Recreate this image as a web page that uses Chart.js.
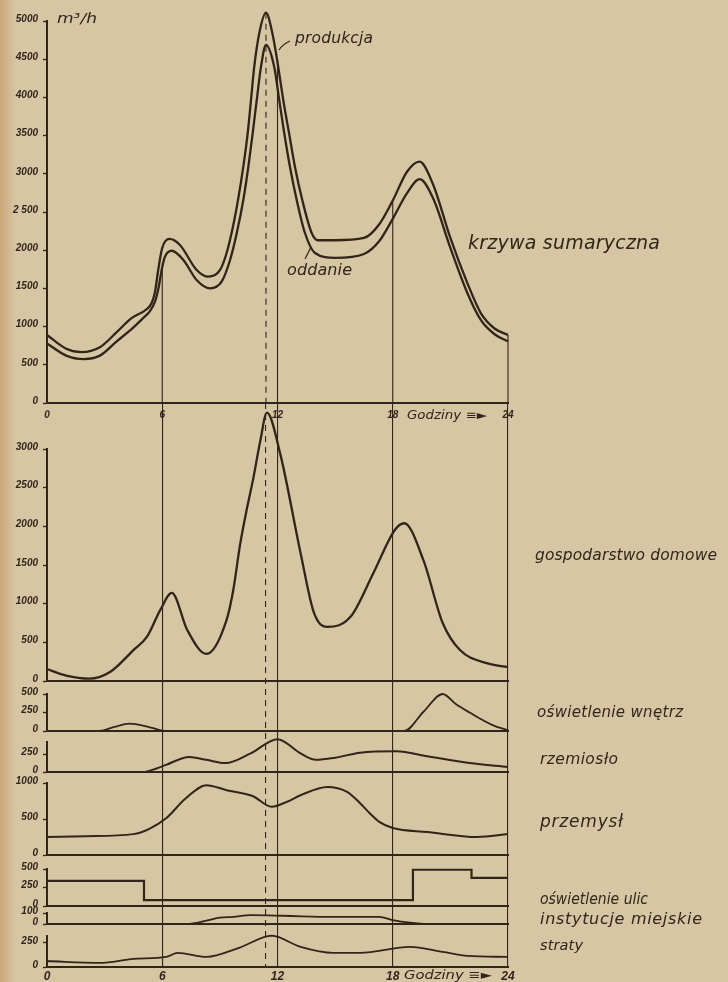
<!DOCTYPE html>
<html><head><meta charset="utf-8">
<script src="https://cdn.jsdelivr.net/npm/chart.js@4/dist/chart.umd.min.js"></script>
<style>
html,body{margin:0;padding:0;}
body{width:728px;height:982px;background:#d7c6a4;position:relative;overflow:hidden;}
#edge{position:absolute;left:0;top:0;width:16px;height:982px;background:linear-gradient(to right,#c8a679,rgba(215,198,164,0));}
canvas{position:absolute;left:0;}
svg{position:absolute;left:0;top:0;}
svg text{font-family:"DejaVu Sans",sans-serif;font-style:italic;fill:#33241a;}
</style></head>
<body>
<div id="edge"></div>
<canvas id="cOverlay" width="728" height="982" style="top:0px"></canvas>
<canvas id="cTop" width="728" height="432" style="top:0px"></canvas>
<canvas id="cGosp" width="728" height="290" style="top:400px"></canvas>
<canvas id="cWnetrz" width="728" height="56" style="top:684px"></canvas>
<canvas id="cRzem" width="728" height="50" style="top:730px"></canvas>
<canvas id="cPrzem" width="728" height="92" style="top:772px"></canvas>
<canvas id="cUlice" width="728" height="56" style="top:858px"></canvas>
<canvas id="cInst" width="728" height="29" style="top:903px"></canvas>
<canvas id="cStraty" width="728" height="49" style="top:926px"></canvas>
<svg width="728" height="982" viewBox="0 0 728 982">
  <text x="57" y="23" font-size="14" textLength="40" lengthAdjust="spacingAndGlyphs">m³/h</text>
  <text x="295" y="43" font-size="15.5" textLength="78" lengthAdjust="spacing">produkcja</text>
  <path d="M279,50 Q283,44 290,41" stroke="#33241a" stroke-width="1.2" fill="none"/>
  <text x="287" y="275" font-size="16" textLength="65" lengthAdjust="spacing">oddanie</text>
  <path d="M311,247 L305,259" stroke="#33241a" stroke-width="1.2" fill="none"/>
  <text x="468" y="249" font-size="19" textLength="192" lengthAdjust="spacing">krzywa sumaryczna</text>
  <text x="535" y="560" font-size="15.5" textLength="182" lengthAdjust="spacing">gospodarstwo domowe</text>
  <text x="537" y="717" font-size="15" textLength="146" lengthAdjust="spacing">oświetlenie wnętrz</text>
  <text x="540" y="764" font-size="15.5" textLength="78" lengthAdjust="spacing">rzemiosło</text>
  <text x="540" y="827" font-size="17" textLength="83" lengthAdjust="spacing">przemysł</text>
  <text x="540" y="904" font-size="15.5" textLength="108" lengthAdjust="spacingAndGlyphs">oświetlenie ulic</text>
  <text x="540" y="924" font-size="16" textLength="162" lengthAdjust="spacing">instytucje miejskie</text>
  <text x="540" y="950" font-size="14.5" textLength="43" lengthAdjust="spacing">straty</text>
  <text x="407" y="419" font-size="12" textLength="80" lengthAdjust="spacingAndGlyphs">Godziny ≡►</text>
  <text x="404" y="979" font-size="12.5" textLength="88" lengthAdjust="spacingAndGlyphs">Godziny ≡►</text>
</svg>
<script>
const INK = '#33241a';

// ---- x axis (hours) ----
const hourTicks = [0, 6, 12, 18, 24];
const hourTickLabels = ['0', '6', '12', '18', '24'];
const peakHour = 11.4;
const markerHours = [6, 12, 18, 24];
const markerFrom = ['oddanie', 'produkcja', 'produkcja', 'produkcja'];

// ---- krzywa sumaryczna (m3/h) ----
const prodHours  = [0, 1, 1.8, 2.75, 3.6, 4.4, 5.2, 5.45, 5.62, 5.79, 6, 6.37, 6.92, 7.79, 8.4, 9.01, 9.35, 9.7, 9.96, 10.22, 10.45, 10.62, 10.79, 11.05, 11.4, 11.73, 12, 12.3, 12.6, 12.91, 13.29, 13.78, 14.1, 15, 16.5, 17.3, 18, 18.75, 19.4, 20.1, 21, 21.9, 22.6, 23.3, 24];
const prodValues = [890, 710, 665, 730, 920, 1110, 1230, 1310, 1450, 1741, 2030, 2147, 2068, 1741, 1653, 1741, 1963, 2330, 2680, 3093, 3534, 3966, 4402, 4839, 5109, 4843, 4460, 3966, 3534, 3089, 2657, 2225, 2130, 2130, 2160, 2340, 2650, 3030, 3160, 2860, 2160, 1560, 1170, 975, 890];
const oddHours  = [0, 1, 1.9, 2.75, 3.6, 4.5, 5.01, 5.35, 5.62, 5.8, 6, 6.14, 6.49, 7.1, 7.79, 8.49, 9.09, 9.53, 9.88, 10.22, 10.48, 10.71, 10.92, 11.14, 11.4, 11.83, 12.09, 12.35, 12.65, 13, 13.43, 13.95, 15, 16.5, 17.3, 18, 18.75, 19.4, 20.1, 21, 21.9, 22.6, 23.3, 24];
const oddValues = [780, 620, 575, 620, 800, 990, 1113, 1200, 1326, 1500, 1780, 1915, 1993, 1872, 1610, 1501, 1588, 1872, 2225, 2657, 3089, 3534, 3966, 4402, 4686, 4398, 3966, 3534, 3089, 2657, 2225, 1963, 1900, 1950, 2120, 2410, 2750, 2930, 2680, 2030, 1430, 1080, 900, 807];
const sumTicks = [0, 500, 1000, 1500, 2000, 2500, 3000, 3500, 4000, 4500, 5000];
const sumTickLabels = ['0', '500', '1000', '1500', '2000', '2 500', '3000', '3500', '4000', '4500', '5000'];

// ---- gospodarstwo domowe ----
const gospHours  = [0, 1, 2.2, 3.3, 4.5, 5.2, 5.9, 6.5, 7.3, 8.3, 9.35, 9.7, 10.05, 10.4, 10.74, 11.1, 11.45, 12.13, 13.2, 13.9, 14.6, 15.8, 17, 18.1, 18.6, 19.6, 20.6, 21.5, 22.9, 24];
const gospValues = [155, 70, 30, 120, 400, 570, 920, 1140, 660, 350, 790, 1180, 1760, 2220, 2620, 3100, 3470, 2950, 1656, 880, 700, 830, 1400, 1950, 2040, 1560, 750, 400, 230, 180];
const gospTicks = [0, 500, 1000, 1500, 2000, 2500, 3000];
const gospTickLabels = ['0', '500', '1000', '1500', '2000', '2500', '3000'];

// ---- oświetlenie wnętrz ----
const wnetrzHours  = [0, 2.75, 3.5, 4.3, 5.35, 6.2, 18.6, 19.6, 20.6, 21.3, 22, 23.2, 24];
const wnetrzValues = [0, 0, 55, 100, 50, 0, 0, 260, 500, 360, 250, 80, 10];
const wnetrzTicks = [0, 250, 500];
const wnetrzTickLabels = ['0', '250', '500'];

// ---- rzemiosło ----
const rzemHours  = [0, 5, 5.7, 6.2, 7.4, 8.3, 9.3, 10.6, 12, 13.2, 14, 15, 16.3, 18.2, 19.8, 22, 24];
const rzemValues = [0, 0, 50, 100, 210, 170, 125, 260, 460, 260, 170, 200, 270, 290, 220, 125, 70];
const rzemTicks = [0, 250];
const rzemTickLabels = ['0', '250'];

// ---- przemysł ----
const przemHours  = [0, 2, 4.5, 5.3, 6.2, 7.2, 8.3, 9.35, 10.7, 11.7, 12.5, 13.2, 14.6, 15.6, 16.3, 16.8, 17.3, 18, 19.8, 22.4, 24];
const przemValues = [250, 260, 290, 360, 510, 780, 970, 900, 820, 670, 740, 830, 945, 880, 720, 580, 460, 375, 320, 250, 290];
const przemTicks = [0, 500, 1000];
const przemTickLabels = ['0', '500', '1000'];

// ---- oświetlenie ulic ----
const uliceHours  = [0, 5.05, 19.05, 22.1, 24];
const uliceValues = [340, 80, 490, 380, 380];
const uliceTicks = [0, 250, 500];
const uliceTickLabels = ['0', '250', '500'];

// ---- instytucje miejskie ----
const instHours  = [0, 7.3, 8.3, 9, 9.7, 10.6, 12.3, 14.9, 16.3, 17.3, 18, 18.9, 19.8, 24];
const instValues = [0, 0, 30, 57, 65, 80, 75, 64, 65, 65, 36, 12, 0, 0];
const instTicks = [0, 100];
const instTickLabels = ['0', '100'];

// ---- straty ----
const stratyHours  = [0, 2.75, 4.5, 6.2, 6.8, 8.3, 10, 11.7, 13.2, 14.9, 16.3, 18.9, 20.6, 21.9, 24];
const stratyValues = [62, 42, 83, 104, 146, 104, 198, 323, 208, 146, 146, 208, 156, 115, 104];
const stratyTicks = [0, 250];
const stratyTickLabels = ['0', '250'];

// ------------------------------------------------------------
const pts = (hs, vs) => hs.map((h, i) => ({x: h, y: vs[i]}));
const valueAt = (hs, vs, h) => vs[hs.indexOf(h)];
const curve = (hs, vs, extra) => Object.assign({
  data: pts(hs, vs), borderColor: INK, borderWidth: 2.3, pointRadius: 0,
  cubicInterpolationMode: 'monotone', fill: false, clip: false
}, extra || {});
const tickFont = {family: 'Liberation Sans', size: 10, style: 'italic', weight: 'bold'};
const baseOpts = {
  responsive: false, animation: false, events: [],
  plugins: {legend: {display: false}, tooltip: {enabled: false}}
};

function panel(id, cfg) {
  return new Chart(document.getElementById(id), {
    type: 'line',
    data: {datasets: cfg.datasets},
    options: Object.assign({}, baseOpts, {
      layout: {padding: {top: cfg.padTop, bottom: cfg.padBottom, left: 0, right: 220}},
      scales: {
        x: {
          type: 'linear', min: 0, max: 24,
          afterBuildTicks: s => { s.ticks = hourTicks.map(v => ({value: v})); },
          afterFit: s => { s.height = cfg.xHeight || 0; s.paddingLeft = 0; s.paddingRight = 0; },
          grid: {display: false, drawTicks: false},
          border: {display: true, color: INK, width: 2},
          ticks: {
            display: !!cfg.xLabels, color: INK, font: tickFont, padding: cfg.xPad || 4,
            autoSkip: false, maxRotation: 0,
            callback: v => hourTickLabels[hourTicks.indexOf(v)]
          }
        },
        y: {
          type: 'linear', min: 0, max: cfg.max,
          afterBuildTicks: s => { s.ticks = cfg.ticks.map(v => ({value: v})); },
          afterFit: s => { s.width = 47; s.paddingTop = 0; s.paddingBottom = 0; },
          grid: {display: true, drawOnChartArea: false, drawTicks: true, tickLength: 4, tickColor: INK, tickWidth: 1.4},
          border: {display: true, color: INK, width: 2},
          ticks: {
            color: INK, font: tickFont, padding: 5, labelOffset: -2, autoSkip: false,
            callback: v => cfg.labels[cfg.ticks.indexOf(v)]
          }
        }
      }
    })
  });
}

// overlay: vertical hour lines through all lower panels + bottom hour labels
const gridHours = [0, 6, peakHour, 12, 18, 24];
new Chart(document.getElementById('cOverlay'), {
  type: 'line',
  data: {datasets: []},
  options: Object.assign({}, baseOpts, {
    layout: {padding: {top: 403, bottom: 0, left: 47, right: 220}},
    scales: {
      x: {
        type: 'linear', min: 0, max: 24,
        afterBuildTicks: s => { s.ticks = gridHours.map(v => ({value: v})); },
        afterFit: s => { s.height = 15; s.paddingLeft = 0; s.paddingRight = 0; },
        grid: {display: true, drawOnChartArea: true, drawTicks: false, lineWidth: 1.1,
               color: c => (c.tick && c.tick.value === 0) ? 'rgba(0,0,0,0)' : INK},
        border: {display: false, dash: c => (c.tick && c.tick.value === peakHour) ? [6, 5] : []},
        ticks: {
          color: INK, font: {family: 'Liberation Sans', size: 12, style: 'italic', weight: 'bold'},
          padding: 2, autoSkip: false, maxRotation: 0,
          callback: v => { const i = hourTicks.indexOf(v); return i < 0 ? '' : hourTickLabels[i]; }
        }
      },
      y: {display: false, min: 0, max: 1}
    }
  })
});

// top panel: krzywa sumaryczna
const series = {produkcja: [prodHours, prodValues], oddanie: [oddHours, oddValues]};
const markerSets = markerHours.map((h, i) => {
  const s = series[markerFrom[i]];
  return {data: [{x: h, y: valueAt(s[0], s[1], h)}, {x: h, y: 0}], borderColor: INK, borderWidth: 1.1, pointRadius: 0, clip: false};
});
const peakSet = {data: [{x: peakHour, y: valueAt(prodHours, prodValues, peakHour)}, {x: peakHour, y: 0}],
  borderColor: INK, borderWidth: 1.1, borderDash: [6, 5], pointRadius: 0, clip: false};

panel('cTop', {
  padTop: 21, padBottom: 13, xHeight: 16, xLabels: true, xPad: 6,
  max: 5000, ticks: sumTicks, labels: sumTickLabels,
  datasets: [curve(prodHours, prodValues), curve(oddHours, oddValues)].concat(markerSets, [peakSet])
});
panel('cGosp', {padTop: 49, padBottom: 9, max: 3000, ticks: gospTicks, labels: gospTickLabels,
  datasets: [curve(gospHours, gospValues)]});
panel('cWnetrz', {padTop: 10, padBottom: 9, max: 500, ticks: wnetrzTicks, labels: wnetrzTickLabels,
  datasets: [curve(wnetrzHours, wnetrzValues, {borderWidth: 1.8})]});
panel('cRzem', {padTop: 12, padBottom: 8, max: 420, ticks: rzemTicks, labels: rzemTickLabels,
  datasets: [curve(rzemHours, rzemValues, {borderWidth: 2})]});
panel('cPrzem', {padTop: 11, padBottom: 9, max: 1000, ticks: przemTicks, labels: przemTickLabels,
  datasets: [curve(przemHours, przemValues, {borderWidth: 2})]});
panel('cUlice', {padTop: 11, padBottom: 8, max: 500, ticks: uliceTicks, labels: uliceTickLabels,
  datasets: [curve(uliceHours, uliceValues, {stepped: 'before', cubicInterpolationMode: 'default', borderWidth: 2.2})]});
panel('cInst', {padTop: 10, padBottom: 8, max: 100, ticks: instTicks, labels: instTickLabels,
  datasets: [curve(instHours, instValues, {borderWidth: 1.8})]});
panel('cStraty', {padTop: 10, padBottom: 8, max: 320, ticks: stratyTicks, labels: stratyTickLabels,
  datasets: [curve(stratyHours, stratyValues, {borderWidth: 1.8})]});
</script>
</body></html>
